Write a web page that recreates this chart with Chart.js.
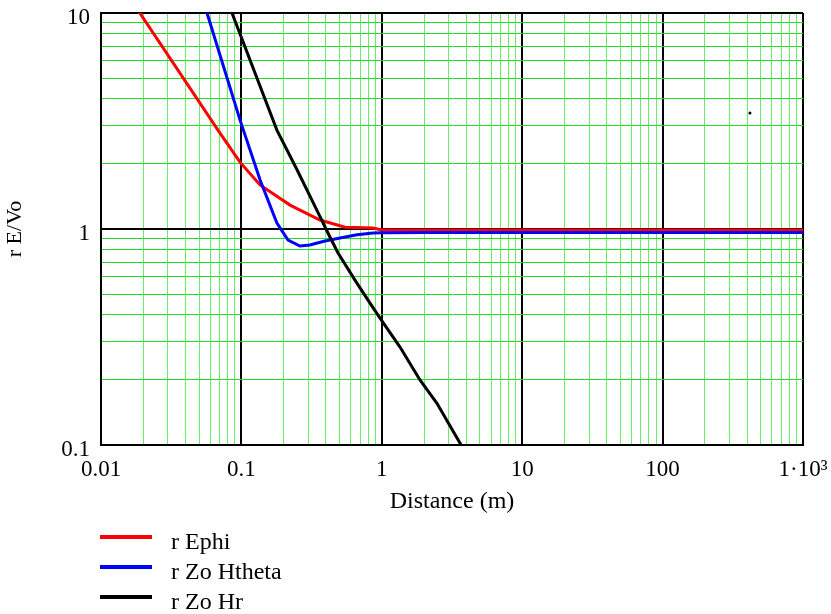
<!DOCTYPE html>
<html>
<head>
<meta charset="utf-8">
<script src="https://cdn.jsdelivr.net/npm/chart.js@4.4.1/dist/chart.umd.min.js"></script>
<style>
  html, body { margin: 0; padding: 0; background: #fff; }
  #wrap { width: 831px; height: 614px; }
</style>
</head>
<body>
<div id="wrap"><canvas id="field"></canvas></div>
<script>
// distance r (m) and normalised field for each component
const ephiR = [0.01, 0.0681, 0.0977, 0.1357, 0.222, 0.363, 0.547, 0.865, 1, 2, 5, 10, 20, 50, 100, 200, 500, 1000];
const ephiV = [18.6, 2.87, 2.04, 1.60, 1.29, 1.10, 1.02, 1.01, 0.99, 0.99, 0.99, 0.99, 0.99, 0.99, 0.99, 0.99, 0.99, 0.99];

const hthetaR = [0.04, 0.0569, 0.0977, 0.1357, 0.179, 0.215, 0.261, 0.307, 0.394, 0.504, 0.666, 0.865, 1, 2, 5, 10, 100, 1000];
const hthetaV = [21.5, 10, 3.2, 1.69, 1.066, 0.889, 0.834, 0.843, 0.88, 0.908, 0.94, 0.958, 0.962, 0.963, 0.963, 0.963, 0.963, 0.963];

const hrR = [0.05, 0.0857, 0.179, 0.249, 0.363, 0.427, 0.488, 0.644, 0.824, 0.971, 1.348, 1.87, 2.47, 3.61, 5];
const hrV = [24.8, 10, 2.87, 1.88, 1.14, 0.918, 0.774, 0.58, 0.454, 0.387, 0.284, 0.20, 0.156, 0.102, 0.065];

// lone plotted dot near the upper right
const dotR = [419];
const dotV = [3.44];

const xDecades = [0.01, 0.1, 1, 10, 100, 1000];
const xTickLabels = ['0.01', '0.1', '1', '10', '100', '1\u00b710\u00b3'];
const yDecades = [0.1, 1, 10];
const yTickLabels = ['0.1', '1', '10'];

const serif = '"Liberation Serif", "Times New Roman", serif';

function pairs(xs, ys) {
  return xs.map((x, i) => ({ x: x, y: ys[i] }));
}

// 1..9 subdivisions of every decade, plus the top one
function logTicks(decades) {
  const out = [];
  for (let d = 0; d < decades.length - 1; d++) {
    for (let m = 1; m <= 9; m++) out.push({ value: +(decades[d] * m).toPrecision(3) });
  }
  out.push({ value: decades[decades.length - 1] });
  return out;
}

function isDecade(v, list) {
  return list.some(d => Math.abs(v - d) / d < 1e-6);
}

function labelFor(v, list, labels) {
  const i = list.findIndex(d => Math.abs(v - d) / d < 1e-6);
  return i >= 0 ? labels[i] : '';
}

const legendBox = {
  id: 'legendBox',
  afterDraw(chart) {
    const ctx = chart.ctx;
    ctx.save();
    chart.data.datasets.filter(ds => ds.inLegend).forEach((ds, i) => {
      const y = 537 + i * 30;
      ctx.strokeStyle = ds.borderColor;
      ctx.lineWidth = 4;
      ctx.beginPath();
      ctx.moveTo(100, y);
      ctx.lineTo(152, y);
      ctx.stroke();
      ctx.fillStyle = '#000';
      ctx.font = '24px ' + serif;
      ctx.textBaseline = 'middle';
      ctx.fillText(ds.label, 171, y + 6);
    });
    ctx.restore();
  }
};

new Chart(document.getElementById('field'), {
  type: 'line',
  data: {
    datasets: [
      { label: 'r Ephi', data: pairs(ephiR, ephiV), borderColor: '#ff0000', borderWidth: 3, order: 3, inLegend: true },
      { label: 'r Zo Htheta', data: pairs(hthetaR, hthetaV), borderColor: '#0000ff', borderWidth: 3, order: 2, inLegend: true },
      { label: 'r Zo Hr', data: pairs(hrR, hrV), borderColor: '#000000', borderWidth: 3, order: 1, inLegend: true },
      { label: 'dot', data: pairs(dotR, dotV), showLine: false, pointRadius: 1.5, pointBackgroundColor: '#000', pointBorderWidth: 0, order: 0 }
    ]
  },
  options: {
    responsive: true,
    maintainAspectRatio: false,
    animation: false,
    events: [],
    layout: { padding: { top: 13, right: 28, left: 0, bottom: 84 } },
    elements: {
      point: { radius: 0 },
      line: { tension: 0, borderCapStyle: 'butt' }
    },
    datasets: { line: { clip: 0 } },
    plugins: {
      legend: { display: false },
      tooltip: { enabled: false }
    },
    scales: {
      x: {
        type: 'logarithmic',
        min: 0.01,
        max: 1000,
        afterBuildTicks: s => { s.ticks = logTicks(xDecades); },
        afterFit: s => {
          s.height = 85;
          s.paddingLeft = 0;
          s.paddingRight = 0;
        },
        ticks: {
          autoSkip: false,
          maxRotation: 0,
          padding: 11,
          color: '#000',
          font: { family: serif, size: 23 },
          callback: v => labelFor(v, xDecades, xTickLabels)
        },
        grid: {
          drawTicks: false,
          color: c => isDecade(c.tick.value, xDecades) ? '#000' : '#66ee66',
          lineWidth: c => isDecade(c.tick.value, xDecades) ? 2 : 1
        },
        border: { display: true, color: '#000', width: 2 },
        title: {
          display: true,
          text: 'Distance (m)',
          color: '#000',
          font: { family: serif, size: 24 },
          padding: { top: 4, bottom: 14 }
        }
      },
      y: {
        type: 'logarithmic',
        min: 0.1,
        max: 10,
        afterBuildTicks: s => { s.ticks = logTicks(yDecades); },
        afterFit: s => {
          s.width = 101;
          s.paddingTop = 0;
          s.paddingBottom = 0;
        },
        ticks: {
          autoSkip: false,
          padding: 11,
          labelOffset: 5,
          color: '#000',
          font: { family: serif, size: 23 },
          callback: v => labelFor(v, yDecades, yTickLabels)
        },
        grid: {
          drawTicks: false,
          color: c => isDecade(c.tick.value, yDecades) ? '#000' : '#22dd22',
          lineWidth: c => isDecade(c.tick.value, yDecades) ? 2 : 1
        },
        border: { display: true, color: '#000', width: 2 },
        title: {
          display: true,
          text: 'r E/Vo',
          color: '#000',
          font: { family: serif, size: 22 },
          padding: { top: 2, bottom: 0 }
        }
      }
    }
  },
  plugins: [legendBox]
});
</script>
</body>
</html>
